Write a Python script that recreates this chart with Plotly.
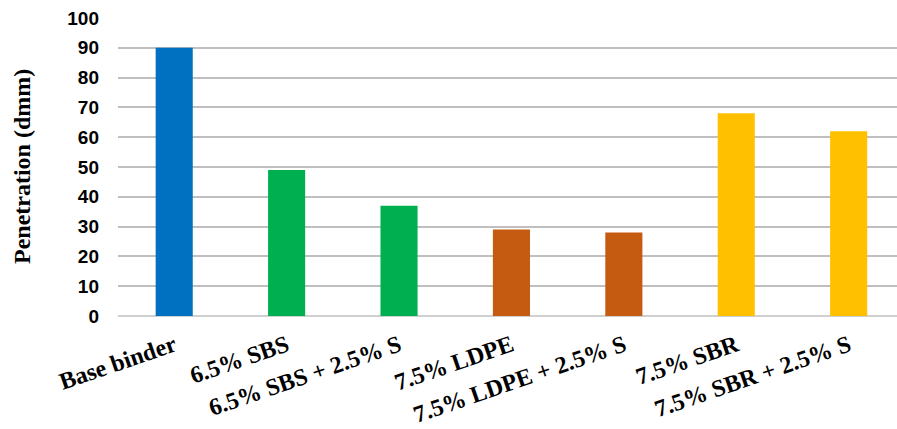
import plotly.graph_objects as go

categories = ["Base binder", "6.5% SBS", "6.5% SBS + 2.5% S", "7.5% LDPE",
              "7.5% LDPE + 2.5% S", "7.5% SBR", "7.5% SBR + 2.5% S"]
penetration = [90, 49, 37, 29, 28, 68, 62]
bar_colors = ["#0070C0", "#00B050", "#00B050", "#C55A11", "#C55A11", "#FFC000", "#FFC000"]
y_ticks = [0, 10, 20, 30, 40, 50, 60, 70, 80, 90, 100]

fig = go.Figure(go.Bar(
    x=list(range(len(categories))), y=penetration,
    marker=dict(color=bar_colors, line=dict(width=0)),
    width=0.33,
))

fig.update_layout(
    width=897, height=429,
    margin=dict(l=118, r=0, t=18, b=113),
    paper_bgcolor="white", plot_bgcolor="white",
    showlegend=False,
    xaxis=dict(
        range=[-0.5, 6.43],
        tickmode="array", tickvals=list(range(len(categories))), ticktext=categories,
        tickangle=-19,
        tickfont=dict(family="Liberation Serif", size=24, color="black", weight="bold"),
        showgrid=False, zeroline=False, showline=False,
        ticks="", ticklabelstandoff=10,
    ),
    yaxis=dict(
        range=[0, 100],
        tickmode="array", tickvals=y_ticks,
        tickfont=dict(family="Liberation Sans", size=19, color="black", weight="bold"),
        showgrid=True, gridcolor="#BFBFBF", gridwidth=1.5,
        zeroline=True, zerolinecolor="#D0D0D0", zerolinewidth=1.5,
        showline=False, ticks="", ticklabelstandoff=18,
    ),
    annotations=[dict(
        text="<b>Penetration (dmm)</b>", textangle=-90,
        xref="paper", yref="paper", x=0, y=0.5, xanchor="center", yanchor="middle",
        xshift=-(118 - 22), showarrow=False,
        font=dict(family="Liberation Serif", size=24, color="black"),
    )],
)

fig.write_html("out.html")
